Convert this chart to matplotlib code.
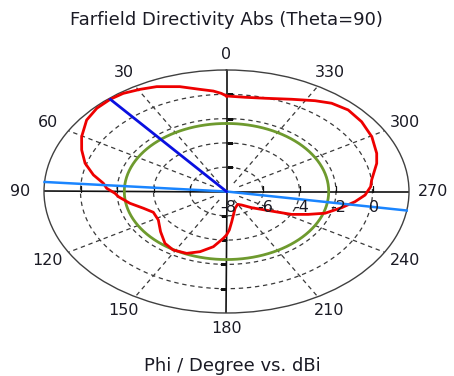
import numpy as np
import matplotlib
matplotlib.use("Agg")
import matplotlib.pyplot as plt

# Farfield directivity cut at Theta = 90 deg (Phi in degrees, value in dBi)
phi_deg = [0, 2, 5, 9.8, 16.5, 23.9, 29.4, 35, 40, 46, 52.5, 60.4, 66.7, 73.3,
           79.4, 84.3, 87.7, 91.4, 94.1, 100.4, 106.8, 113.1, 122.1, 132.5,
           141.7, 148.7, 156.8, 163.7, 171, 177.4, 180, 182.8, 186.6, 198.8,
           210, 216.8, 226, 234.2, 239, 242.2, 247.2, 251.7, 258.1, 263.2,
           267.8, 272.9, 276.8, 285.7, 290.9, 299.5, 307.8, 315.2, 321.6, 327,
           334.8, 344.6, 352.6, 360]
directivity_dbi = [-0.14, 0.08, 0.3, 0.53, 1.0, 1.44, 1.65, 1.86, 1.91, 1.87,
                   1.66, 1.13, 0.64, 0.09, -0.58, -1.22, -1.43, -1.89, -2.06,
                   -2.62, -3.24, -3.64, -3.59, -3.1, -2.56, -2.37, -2.46, -2.84,
                   -3.4, -4.14, -4.42, -4.83, -5.5, -6.54, -6.78, -6.61, -6.08,
                   -5.4, -4.69, -3.96, -3.14, -2.31, -1.55, -0.91, -0.4, -0.09,
                   0.01, 0.55, 0.81, 1.15, 1.37, 1.46, 1.27, 0.91, 0.39, -0.04,
                   -0.18, -0.14]

main_lobe_dir = 40.0          # deg
main_lobe_dbi = 1.91
beamwidth_edges = [85.5, 261.0]  # 3 dB angular width limits, deg
side_level_dbi = -2.4

r_min, r_max = -8, 2
ring_values = [-6, -4, -2, 0]
radial_labels = ["-8", "-6", "-4", "-2", "0"]
angle_ticks = list(range(0, 360, 30))
angle_labels = [str(a) for a in angle_ticks]

TXT = "#1a1a24"
GRID = "#3a3a3a"

W, H = 454, 376
fig = plt.figure(figsize=(W / 100, H / 100), dpi=100)
ax = fig.add_axes([44 / W, 63 / H, 365 / W, 243 / H], projection="polar")
ax.set_aspect("auto")
ax.set_theta_zero_location("N")
ax.set_theta_direction(1)
ax.set_rlim(r_min, r_max)
ax.grid(False)
ax.set_xticks([])
ax.set_yticks([])
ax.spines["polar"].set_color("#404040")
ax.spines["polar"].set_linewidth(1.0)

th_full = np.radians(np.linspace(0, 360, 361))

# dashed rings
for rv in ring_values:
    ax.plot(th_full, np.full_like(th_full, rv), color=GRID, lw=0.9,
            ls=(0, (3.5, 3)), zorder=1)

# dashed spokes
for a in angle_ticks:
    if a % 90 == 0:
        continue
    t = np.radians(a)
    ax.plot([t, t], [r_min + 0.8, r_max], color=GRID, lw=0.9,
            ls=(0, (3.5, 3)), zorder=1)

# solid main axes
for a in (0, 90, 180, 270):
    t = np.radians(a)
    ax.plot([t, t], [r_min, r_max], color="#111111", lw=1.2, zorder=2)

# small tick marks along the axes
tick_kw = dict(ls="none", ms=4, mew=0.9, color="#111111", zorder=2)
ax.plot([np.radians(270)] * 4, ring_values, marker=2, **tick_kw)
ax.plot([np.radians(90)] * 4, ring_values, marker=2, **tick_kw)
ax.plot([0] * 4, ring_values, marker=1, **tick_kw)
ax.plot([np.pi] * 4, ring_values, marker=0, **tick_kw)

# side level circle
ax.plot(th_full, np.full_like(th_full, side_level_dbi), color="#6e9a2e",
        lw=2.0, zorder=3)

# directivity pattern
ax.plot(np.radians(phi_deg), directivity_dbi, color="#ee0000", lw=2.0,
        zorder=4, clip_on=False)

# 3 dB angular width
for a in beamwidth_edges:
    t = np.radians(a)
    ax.plot([t, t], [r_min, r_max], color="#1a85ff", lw=1.8, zorder=5,
            clip_on=False)

# main lobe direction
t = np.radians(main_lobe_dir)
ax.plot([t, t], [r_min, main_lobe_dbi], color="#0a10e0", lw=2.0, zorder=6)

# angle labels
r_lab = r_min + (r_max - r_min) * 1.13
for a, lab in zip(angle_ticks, angle_labels):
    ax.text(np.radians(a), r_lab, lab, ha="center", va="center",
            fontsize=11.5, color=TXT, clip_on=False)

# radial labels along the 270 deg direction
for rv, lab in zip(range(r_min, r_max, 2), radial_labels):
    ax.annotate(lab, xy=(np.radians(270), rv), xytext=(2, -15.5),
                textcoords="offset pixels", ha="center", va="center",
                fontsize=11.5, color=TXT, zorder=7)

fig.text(226 / W, 1 - 25 / H, "Farfield Directivity Abs (Theta=90)",
         ha="center", va="baseline", fontsize=13, color=TXT)
fig.text(232 / W, 1 - 371 / H, "Phi / Degree vs. dBi",
         ha="center", va="baseline", fontsize=13, color=TXT)

fig.savefig("out.png", dpi=100, facecolor="white")
